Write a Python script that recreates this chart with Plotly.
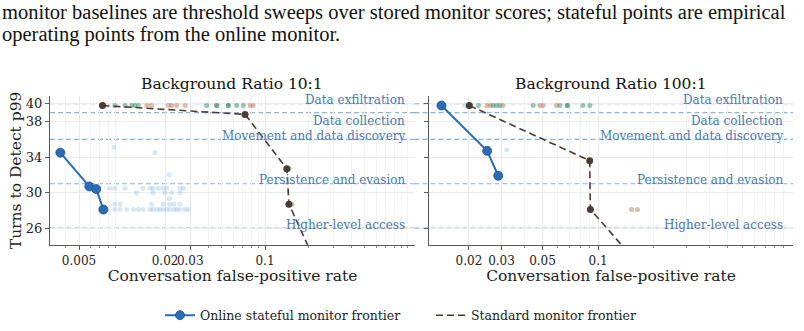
import plotly.graph_objects as go

# ---------------- data ----------------
categories = ["Data exfiltration", "Data collection", "Movement and data discovery",
              "Persistence and evasion", "Higher-level access"]
category_turns = [40, 39, 36, 31, 26]
label_below = [False, True, False, False, False]

# Background Ratio 10:1
online_fpr_10 = [0.0037, 0.0059, 0.0066, 0.0074]
online_turns_10 = [34.5, 30.7, 30.4, 28.1]
std_fpr_10 = [0.0073, 0.0725, 0.142, 0.147, 0.26]
std_turns_10 = [39.8, 38.8, 32.7, 28.7, 20.0]

state_fpr_10 = [0.0088, 0.0170, 0.0214,
                0.0082, 0.0089, 0.0105, 0.0140, 0.0157, 0.0165, 0.0179, 0.0194, 0.0205, 0.0254, 0.0268,
                0.0126, 0.0165, 0.0200, 0.0222, 0.0254,
                0.0214,
                0.0089, 0.0097, 0.0161, 0.0194, 0.0216, 0.0231, 0.0254,
                0.0089, 0.0097, 0.0108, 0.0120, 0.0130, 0.0140, 0.0157, 0.0165, 0.0176, 0.0184,
                0.0194, 0.0205, 0.0216, 0.0231, 0.0241, 0.0254, 0.0276, 0.0290]
state_turns_10 = [35.1, 34.5, 32.0,
                  30.5, 30.5, 30.5, 30.5, 30.5, 30.5, 30.5, 30.5, 30.5, 30.5, 30.5,
                  30.0, 30.0, 30.0, 30.0, 30.0,
                  29.3,
                  28.7, 28.7, 28.7, 28.7, 28.7, 28.7, 28.7,
                  28.1, 28.1, 28.1, 28.1, 28.1, 28.1, 28.1, 28.1, 28.1, 28.1,
                  28.1, 28.1, 28.1, 28.1, 28.1, 28.1, 28.1, 28.1]

green_fpr_10 = [0.0089, 0.0105, 0.0117, 0.0123, 0.0130, 0.0391, 0.0459, 0.0459, 0.0553, 0.0553, 0.0634, 0.0705, 0.147]
green_turns_10 = [39.8, 39.8, 39.8, 39.8, 39.8, 39.8, 39.8, 39.8, 39.8, 39.8, 39.8, 39.8, 32.7]
salmon_fpr_10 = [0.0149, 0.0161, 0.0211, 0.0222, 0.0241, 0.0276, 0.0785, 0.0827, 0.154]
salmon_turns_10 = [39.8, 39.8, 39.8, 39.8, 39.8, 39.8, 39.8, 39.8, 28.7]

# Background Ratio 100:1
online_fpr_100 = [0.0142, 0.0251, 0.0288]
online_turns_100 = [39.8, 34.7, 31.9]
std_fpr_100 = [0.0201, 0.0900, 0.0908, 0.20]
std_turns_100 = [39.8, 33.6, 28.1, 20.0]

state_fpr_100 = [0.0190, 0.0320]
state_turns_100 = [39.8, 34.8]
green_fpr_100 = [0.0225, 0.0270, 0.0282, 0.0294, 0.0445, 0.0621, 0.0681, 0.0681, 0.0826, 0.0902]
green_turns_100 = [39.8, 39.8, 39.8, 39.8, 39.8, 39.8, 39.8, 39.8, 39.8, 39.8]
salmon_fpr_100 = [0.0250, 0.0261, 0.0305, 0.0484, 0.0504, 0.0596, 0.1516, 0.163]
salmon_turns_100 = [39.8, 39.8, 39.8, 39.8, 39.8, 39.8, 28.1, 28.1]

xtick_vals_10 = [0.005, 0.02, 0.03, 0.1]
xtick_text_10 = ["0.005", "0.02", "0.03", "0.1"]
xtick_vals_100 = [0.02, 0.03, 0.05, 0.1]
xtick_text_100 = ["0.02", "0.03", "0.05", "0.1"]
ytick_vals = [26, 30, 34, 38, 40]

caption_lines = [
    "monitor baselines are threshold sweeps over stored monitor scores; stateful points are empirical",
    "operating points from the online monitor.",
]

# ---------------- style ----------------
SERIF = "DejaVu Serif"
TIMES = "Liberation Serif"
BLUE = "#2b6cb8"
DARK = "#4a3b34"
LABEL_BLUE = "#4a78ad"
THRESH = "#8fb3dc"
GRID = "#ebebeb"
MINOR_GRID = "#f3f3f3"
SPINE = "#5a5a5a"

fig = go.Figure()


def add_panel(xa, ya, st_x, st_y, gr_x, gr_y, sa_x, sa_y, on_x, on_y, sd_x, sd_y, legend):
    fig.add_trace(go.Scatter(x=st_x, y=st_y, mode="markers", xaxis=xa, yaxis=ya,
                             marker=dict(size=5, color="rgba(140,185,222,0.35)"),
                             showlegend=False, hoverinfo="skip"))
    fig.add_trace(go.Scatter(x=sa_x, y=sa_y, mode="markers", xaxis=xa, yaxis=ya,
                             marker=dict(size=5, color="rgba(190,120,88,0.5)"),
                             showlegend=False, hoverinfo="skip"))
    fig.add_trace(go.Scatter(x=gr_x, y=gr_y, mode="markers", xaxis=xa, yaxis=ya,
                             marker=dict(size=5, color="rgba(55,140,105,0.5)"),
                             showlegend=False, hoverinfo="skip"))
    fig.add_trace(go.Scatter(x=sd_x, y=sd_y, mode="lines+markers", xaxis=xa, yaxis=ya,
                             name="Standard monitor frontier", showlegend=False,
                             line=dict(color=DARK, width=1.6, dash="7px,4px"),
                             marker=dict(size=7, color=DARK)))
    fig.add_trace(go.Scatter(x=on_x, y=on_y, mode="lines+markers", xaxis=xa, yaxis=ya,
                             name="Online stateful monitor frontier", showlegend=legend, legendrank=1,
                             line=dict(color=BLUE, width=2),
                             marker=dict(size=9, color=BLUE, line=dict(color="#1d4f8c", width=0.8))))
    if legend:
        # legend entry only (dashed line without marker, as in the reference legend)
        fig.add_trace(go.Scatter(x=[None], y=[None], mode="lines", xaxis=xa, yaxis=ya,
                                 name="Standard monitor frontier", showlegend=True, legendrank=2,
                                 line=dict(color=DARK, width=1.6, dash="7px,4px")))


add_panel("x", "y", state_fpr_10, state_turns_10, green_fpr_10, green_turns_10,
          salmon_fpr_10, salmon_turns_10, online_fpr_10, online_turns_10,
          std_fpr_10, std_turns_10, True)
add_panel("x2", "y2", state_fpr_100, state_turns_100, green_fpr_100, green_turns_100,
          salmon_fpr_100, salmon_turns_100, online_fpr_100, online_turns_100,
          std_fpr_100, std_turns_100, False)

minor_vals = [m * 10 ** e for e in (-3, -2, -1, 0) for m in range(2, 10)]
minor_vals += [1.0]

common_x = dict(type="log", showline=True, linecolor=SPINE, linewidth=1.2,
                gridcolor=GRID, gridwidth=1, zeroline=False, tickangle=0,
                ticks="outside", ticklen=4, tickcolor=SPINE,
                tickfont=dict(family=SERIF, size=12, color="#222"),
                minor=dict(tickvals=minor_vals, showgrid=True, gridcolor=MINOR_GRID,
                           ticks="outside", ticklen=2, tickcolor="#888"),
                title=dict(text="Conversation false-positive rate",
                           font=dict(family=SERIF, size=15.5, color="#222"), standoff=2),
                automargin=False)
common_y = dict(range=[24.11, 40.89], showline=True, linecolor=SPINE, linewidth=1.2,
                gridcolor=GRID, zeroline=False, tickvals=ytick_vals,
                ticks="outside", ticklen=4, tickcolor=SPINE,
                tickfont=dict(family=SERIF, size=13, color="#222"), automargin=False)

fig.update_layout(
    width=804, height=331, margin=dict(l=0, r=0, t=0, b=0),
    plot_bgcolor="white", paper_bgcolor="white",
    font=dict(family=SERIF),
    xaxis=dict(common_x, domain=[50 / 804, 415 / 804], range=[-2.504, 0.049],
               tickvals=xtick_vals_10, ticktext=xtick_text_10),
    xaxis2=dict(common_x, domain=[429 / 804, 793 / 804], range=[-1.915, 0.054],
                tickvals=xtick_vals_100, ticktext=xtick_text_100),
    yaxis=dict(common_y, domain=[83 / 331, 234 / 331], anchor="x",
               title=dict(text="Turns to Detect p99", font=dict(family=SERIF, size=15.5, color="#222"),
                          standoff=0)),
    yaxis2=dict(common_y, domain=[83 / 331, 234 / 331], anchor="x2", showticklabels=False),
    legend=dict(orientation="h", x=160 / 804, xanchor="left", y=0.035, yanchor="middle",
                font=dict(family=SERIF, size=12.5, color="#222"), traceorder="normal",
                entrywidth=226, entrywidthmode="pixels", itemwidth=30, bgcolor="rgba(0,0,0,0)"),
    showlegend=True,
)

# threshold lines and labels
for xref, x0, xs in (("x domain", 0, -8), ("x2 domain", -0.04, -8)):
    yref = "y" if xref == "x domain" else "y2"
    for name, turns, below in zip(categories, category_turns, label_below):
        fig.add_shape(type="line", xref=xref, yref=yref, x0=x0, x1=1, y0=turns, y1=turns,
                      line=dict(color=THRESH, width=1.2, dash="5px,3px"), layer="below")
        fig.add_annotation(xref=xref, yref=yref, x=1, y=turns, text=name, showarrow=False,
                           xanchor="right", yanchor="top" if below else "bottom",
                           xshift=xs, yshift=1 if below else -5.5,
                           font=dict(family=SERIF, size=12, color=LABEL_BLUE))

# panel titles
for xref, t in (("x domain", "Background Ratio 10:1"), ("x2 domain", "Background Ratio 100:1")):
    fig.add_annotation(xref=xref, yref="paper", x=0.5, y=(331 - 85) / 331, text=t,
                       showarrow=False, xanchor="center", yanchor="middle",
                       font=dict(family=SERIF, size=15.5, color="#111"))

# caption text fragment at the top
for i, (line, cy) in enumerate(zip(caption_lines, (12.5, 34.5))):
    fig.add_annotation(xref="paper", yref="paper", x=0, y=(331 - cy) / 331, text=line,
                       showarrow=False, xanchor="left", yanchor="middle", xshift=0,
                       font=dict(family=TIMES, size=20.5, color="#111"))

fig.write_html("out.html")
